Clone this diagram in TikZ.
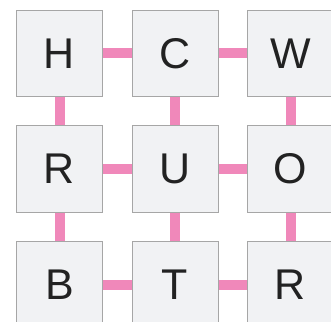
\documentclass[tikz,border=0pt]{standalone}
\usepackage{fontspec}
\setmainfont{Liberation Sans}
\definecolor{boxfill}{HTML}{F1F2F4}
\definecolor{boxline}{HTML}{A6A6A6}
\definecolor{linkpink}{HTML}{F088BA}
\definecolor{txt}{HTML}{222222}
\begin{document}
\begin{tikzpicture}[x=1pt,y=1pt,
  cell/.style={draw=boxline,fill=boxfill,line width=1pt,minimum size=86pt,inner sep=0pt,
    text=txt,font=\fontsize{43}{43}\selectfont},
  link/.style={draw=linkpink,line width=10pt,line cap=butt}]
\clip (0,0) rectangle (331,321);
\node[cell] (h) at (59.5,267.5) {H};
\node[cell] (c) at (175,267.5) {C};
\node[cell] (w) at (290.5,267.5) {W};
\node[cell] (r1) at (59.5,152) {R};
\node[cell] (u) at (175,152) {U};
\node[cell] (o) at (290.5,152) {O};
\node[cell] (b) at (59.5,36.5) {B};
\node[cell] (t) at (175,36.5) {T};
\node[cell] (r2) at (290.5,36.5) {R};
\draw[link] (h.east) -- (c.west);
\draw[link] (c.east) -- (w.west);
\draw[link] (r1.east) -- (u.west);
\draw[link] (u.east) -- (o.west);
\draw[link] (b.east) -- (t.west);
\draw[link] (t.east) -- (r2.west);
\draw[link] (h.south) -- (r1.north);
\draw[link] (c.south) -- (u.north);
\draw[link] (w.south) -- (o.north);
\draw[link] (r1.south) -- (b.north);
\draw[link] (u.south) -- (t.north);
\draw[link] (o.south) -- (r2.north);
\end{tikzpicture}
\end{document}
